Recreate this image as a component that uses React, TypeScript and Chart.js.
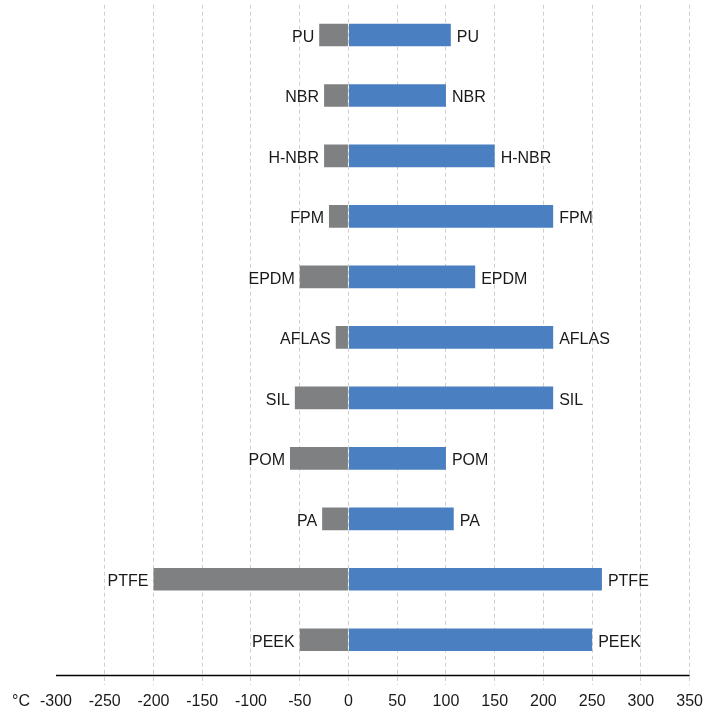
import React, { useEffect, useRef } from "react";
import { Chart, registerables } from "chart.js";

Chart.register(...registerables);

const materials = ["PU", "NBR", "H-NBR", "FPM", "EPDM", "AFLAS", "SIL", "POM", "PA", "PTFE", "PEEK"];
const minTemps = [-30, -25, -25, -20, -50, -13, -55, -60, -27, -200, -50];
const maxTemps = [105, 100, 150, 210, 130, 210, 210, 100, 108, 260, 250];
const axisMin = -300;
const axisMax = 350;
const axisStep = 50;
const unitLabel = "°C";

const FONT = "'Liberation Sans', Arial, sans-serif";
const TICK_LEN = 15;
const TICK_PAD = 7;

const labelPlugin = {
  id: "barLabels",
  afterDatasetsDraw(chart: any) {
    const ctx = chart.ctx;
    const area = chart.chartArea;
    ctx.save();
    ctx.font = `16px ${FONT}`;
    ctx.fillStyle = "#1a1a1a";
    ctx.textBaseline = "middle";
    const neg = chart.getDatasetMeta(0);
    const pos = chart.getDatasetMeta(1);
    materials.forEach((name, i) => {
      const nb = neg.data[i];
      const pb = pos.data[i];
      const y = nb.y + 2.5;
      ctx.textAlign = "right";
      ctx.fillText(name, Math.min(nb.x, nb.base) - 5, y);
      ctx.textAlign = "left";
      ctx.fillText(name, Math.max(pb.x, pb.base) + 6, y);
    });
    // axis line
    const xs = chart.scales.x;
    ctx.strokeStyle = "#000";
    ctx.lineWidth = 1.4;
    ctx.beginPath();
    ctx.moveTo(xs.getPixelForValue(axisMin), area.bottom + 5.5);
    ctx.lineTo(xs.getPixelForValue(axisMax), area.bottom + 5.5);
    ctx.stroke();
    // unit label
    ctx.textAlign = "center";
    ctx.textBaseline = "middle";
    ctx.fillStyle = "#1a1a1a";
    ctx.fillText(unitLabel, 21, xs.top + TICK_LEN + TICK_PAD + 10);
    ctx.restore();
  },
};

export default function App() {
  const ref = useRef<HTMLCanvasElement>(null);
  useEffect(() => {
    document.body.style.margin = "0";
    const chart = new Chart(ref.current!, {
      type: "bar",
      data: {
        labels: materials,
        datasets: [
          {
            data: minTemps,
            backgroundColor: "#7f8081",
            categoryPercentage: 1,
            barPercentage: 0.375,
          },
          {
            data: maxTemps,
            backgroundColor: "#4a7fc1",
            categoryPercentage: 1,
            barPercentage: 0.375,
          },
        ],
      },
      options: {
        indexAxis: "y",
        responsive: false,
        animation: false,
        layout: { padding: { left: 56, right: 20, top: 4.75, bottom: 0 } },
        plugins: { legend: { display: false }, tooltip: { enabled: false } },
        scales: {
          x: {
            type: "linear",
            min: axisMin,
            max: axisMax,
            stacked: true,
            afterFit(scale: any) {
              scale.height = 44;
            },
            ticks: {
              stepSize: axisStep,
              padding: TICK_PAD,
              color: "#1a1a1a",
              font: { family: FONT, size: 16 },
              maxRotation: 0,
              autoSkip: false,
            },
            grid: {
              color: (c: any) => (c.tick && c.tick.value === axisMin ? "rgba(0,0,0,0)" : "#cfcfcf"),
              lineWidth: 1,
              tickLength: TICK_LEN,
              tickBorderDash: [4, 3],
              drawTicks: true,
            },
            border: { display: false, dash: [4, 3] },
          } as any,
          y: {
            stacked: true,
            display: false,
          },
        },
      } as any,
      plugins: [labelPlugin],
    });
    return () => chart.destroy();
  }, []);
  return (
    <div style={{ width: 710, height: 714 }}>
      <canvas ref={ref} width={710} height={714} style={{ width: 710, height: 714, display: "block" }} />
    </div>
  );
}
